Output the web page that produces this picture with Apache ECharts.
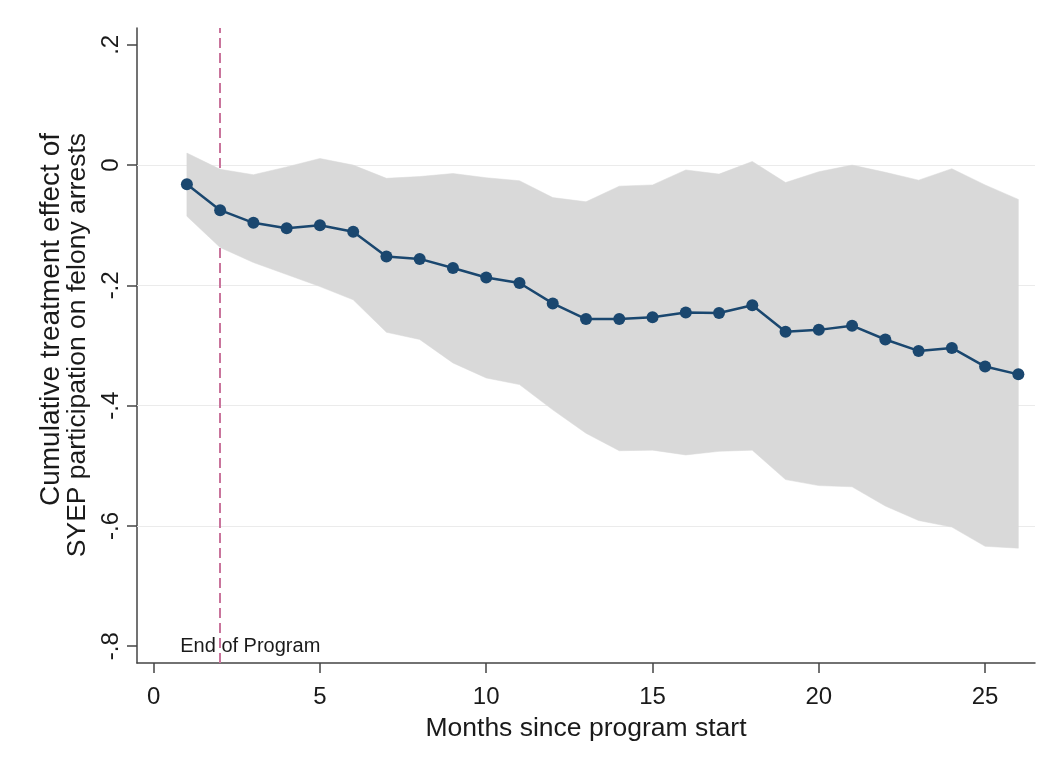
<!DOCTYPE html>
<html>
<head>
<meta charset="utf-8">
<script src="https://cdn.jsdelivr.net/npm/echarts@6/dist/echarts.min.js"></script>
<style>
html,body{margin:0;padding:0;background:#fff;}
#chart{width:1047px;height:765px;}
</style>
</head>
<body>
<div id="chart"></div>
<script>
const months = [1,2,3,4,5,6,7,8,9,10,11,12,13,14,15,16,17,18,19,20,21,22,23,24,25,26];
const effect = [-0.032,-0.075,-0.096,-0.105,-0.100,-0.111,-0.152,-0.156,-0.171,-0.187,-0.196,-0.230,-0.256,-0.256,-0.253,-0.245,-0.246,-0.233,-0.277,-0.274,-0.267,-0.290,-0.309,-0.304,-0.335,-0.348];
const ciUpper = [0.020,-0.007,-0.016,-0.003,0.011,0.000,-0.022,-0.019,-0.014,-0.021,-0.026,-0.054,-0.061,-0.035,-0.033,-0.008,-0.015,0.006,-0.029,-0.011,0.000,-0.012,-0.025,-0.006,-0.033,-0.057];
const ciLower = [-0.085,-0.137,-0.162,-0.182,-0.202,-0.224,-0.278,-0.290,-0.329,-0.354,-0.365,-0.407,-0.446,-0.475,-0.474,-0.482,-0.476,-0.474,-0.523,-0.533,-0.535,-0.567,-0.591,-0.602,-0.634,-0.637];
const xTicks = [0,5,10,15,20,25];
const xTickLabels = ['0','5','10','15','20','25'];
const yTicks = [-0.8,-0.6,-0.4,-0.2,0,0.2];
const yTickLabels = ['-.8','-.6','-.4','-.2','0','.2'];
const gridLineValues = [-0.6,-0.4,-0.2,0];
const programEndMonth = 2;
const annotationX = 0.8;
const annotationY = -0.8;
const annotationText = 'End of Program';
const xTitle = 'Months since program start';
const yTitleLine1 = 'Cumulative treatment effect of';
const yTitleLine2 = 'SYEP participation on felony arrests';

function lookup(v, vals, labels) {
  let best = 0, d = Infinity;
  vals.forEach((t, i) => { const dd = Math.abs(t - v); if (dd < d) { d = dd; best = i; } });
  return labels[best];
}

const FONT = '"Liberation Sans", Arial, Helvetica, sans-serif';
const axisColor = '#444';
const textColor = '#1a1a1a';
const chart = echarts.init(document.getElementById('chart'), null, {renderer: 'canvas'});

const option = {
  animation: false,
  backgroundColor: '#ffffff',
  textStyle: {fontFamily: FONT},
  grid: {left: 137, right: 12, top: 28, bottom: 102, containLabel: false},
  xAxis: {
    type: 'value',
    min: -0.5,
    max: 26.5,
    name: xTitle,
    nameLocation: 'middle',
    nameGap: 52,
    nameTextStyle: {fontSize: 26.5, color: textColor, fontFamily: FONT},
    axisLine: {show: true, onZero: false, lineStyle: {color: axisColor, width: 1.5}},
    axisTick: {show: true, length: 10, customValues: xTicks, lineStyle: {color: axisColor, width: 1.5}},
    axisLabel: {customValues: xTicks, margin: 22, fontSize: 24, color: textColor, fontFamily: FONT,
      formatter: v => lookup(v, xTicks, xTickLabels)},
    splitLine: {show: false}
  },
  yAxis: {
    type: 'value',
    min: -0.828,
    max: 0.228,
    axisLine: {show: true, onZero: false, lineStyle: {color: axisColor, width: 1.5}},
    axisTick: {show: true, length: 10, customValues: yTicks, lineStyle: {color: axisColor, width: 1.5}},
    axisLabel: {customValues: yTicks, rotate: 90, margin: 14, fontSize: 24, color: textColor, fontFamily: FONT,
      formatter: v => lookup(v, yTicks, yTickLabels)},
    splitLine: {show: false}
  },
  graphic: [
    {
      type: 'text', x: 51, y: 133, rotation: Math.PI / 2,
      style: {text: yTitleLine1, fill: textColor, font: '28px ' + FONT, align: 'right', verticalAlign: 'middle'}
    },
    {
      type: 'text', x: 77.5, y: 133, rotation: Math.PI / 2,
      style: {text: yTitleLine2, fill: textColor, font: '26.5px ' + FONT, align: 'right', verticalAlign: 'middle'}
    }
  ],
  series: [
    {
      name: 'gridlines',
      type: 'line',
      data: [],
      silent: true,
      z: 1,
      markLine: {
        silent: true,
        z: 1,
        symbol: ['none', 'none'],
        label: {show: false},
        lineStyle: {color: '#ebebeb', width: 1.2, type: 'solid'},
        data: gridLineValues.map(v => ({yAxis: v}))
      }
    },
    {
      name: 'ciBand',
      type: 'custom',
      silent: true,
      z: 2,
      data: months.map((m, i) => [m, ciLower[i], ciUpper[i]]),
      encode: {x: 0, y: [1, 2]},
      renderItem: function (params, api) {
        if (params.dataIndex !== 0) return null;
        const pts = [];
        for (let i = 0; i < months.length; i++) pts.push(api.coord([months[i], ciUpper[i]]));
        for (let i = months.length - 1; i >= 0; i--) pts.push(api.coord([months[i], ciLower[i]]));
        return {
          type: 'polygon',
          shape: {points: pts},
          style: {fill: '#d9d9d9', stroke: '#d9d9d9', lineWidth: 0.5}
        };
      }
    },
    {
      name: 'effect',
      type: 'line',
      data: months.map((m, i) => [m, effect[i]]),
      symbol: 'circle',
      symbolSize: 12,
      itemStyle: {color: '#1a476f'},
      lineStyle: {color: '#1a476f', width: 2.5},
      z: 3,
      markLine: {
        silent: true,
        z: 1,
        symbol: ['none', 'none'],
        label: {show: false},
        lineStyle: {color: '#c9749c', width: 2, type: [10, 5]},
        data: [{xAxis: programEndMonth}]
      }
    },
    {
      name: 'annotation',
      type: 'custom',
      silent: true,
      z: 4,
      data: [[annotationX, annotationY]],
      renderItem: function (params, api) {
        const p = api.coord([api.value(0), api.value(1)]);
        return {
          type: 'text',
          x: p[0],
          y: p[1],
          style: {text: annotationText, fill: textColor, font: '20px ' + FONT, align: 'left', verticalAlign: 'middle'}
        };
      }
    }
  ]
};
chart.setOption(option);
</script>
</body>
</html>
